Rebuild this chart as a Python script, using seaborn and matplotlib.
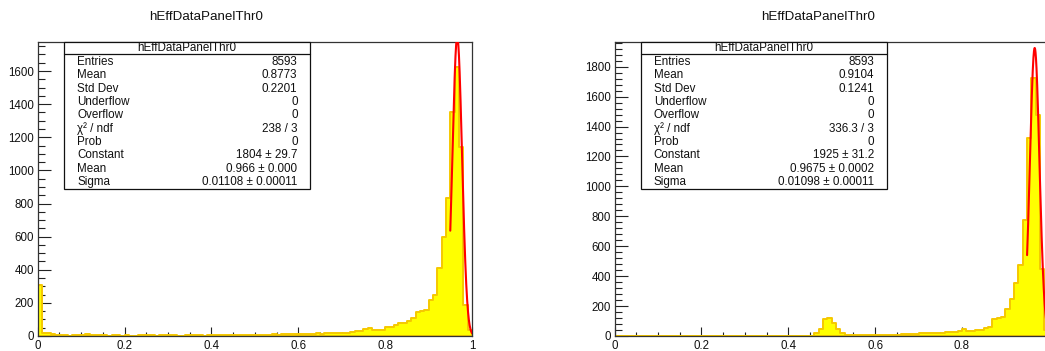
import numpy as np
import pandas as pd
import matplotlib
matplotlib.use("Agg")
import matplotlib.pyplot as plt
import seaborn as sns
from matplotlib.patches import Rectangle
from matplotlib.ticker import FixedLocator, MultipleLocator

# ---------------- data ----------------
hist_title = "hEffDataPanelThr0"
n_bins = 100
x_range = (0.0, 1.0)

left_counts = [
    308, 20, 16, 12, 6, 4, 5, 3, 6, 8,
    6, 10, 8, 5, 4, 6, 3, 4, 5, 3,
    4, 2, 3, 5, 6, 5, 4, 3, 5, 6,
    4, 5, 3, 2, 4, 5, 6, 4, 3, 5,
    6, 5, 4, 6, 5, 4, 5, 6, 5, 4,
    6, 5, 6, 7, 10, 9, 11, 10, 12, 11,
    12, 13, 12, 14, 16, 14, 18, 17, 20, 19,
    20, 21, 26, 30, 32, 42, 46, 38, 36, 38,
    56, 56, 68, 76, 80, 90, 110, 145, 150, 155,
    217, 248, 409, 600, 831, 1355, 1622, 1143, 187, 36,
]
right_counts = [
    1, 0, 1, 1, 0, 1, 1, 0, 1, 1,
    0, 1, 1, 1, 0, 1, 1, 0, 1, 1,
    1, 0, 1, 1, 1, 0, 1, 1, 1, 0,
    1, 1, 0, 1, 1, 1, 0, 1, 1, 1,
    1, 0, 1, 1, 2, 2, 22, 45, 112, 118,
    89, 45, 22, 5, 5, 4, 5, 6, 5, 6,
    6, 7, 8, 7, 9, 10, 12, 11, 13, 15,
    18, 17, 20, 22, 21, 23, 25, 27, 28, 33,
    49, 33, 36, 40, 42, 56, 60, 112, 118, 128,
    180, 250, 353, 475, 777, 1324, 1726, 1480, 450, 40,
]

stat_labels = ["Entries", "Mean", "Std Dev", "Underflow", "Overflow",
               "χ² / ndf", "Prob", "Constant", "Mean", "Sigma"]
left_stats = ["8593", "0.8773", "0.2201", "0", "0", "238 / 3", "0",
              "1804 ± 29.7", "0.966 ± 0.000", "0.01108 ± 0.00011"]
right_stats = ["8593", "0.9104", "0.1241", "0", "0", "336.3 / 3", "0",
               "1925 ± 31.2", "0.9675 ± 0.0002", "0.01098 ± 0.00011"]

# Gaussian fit parameters (Constant, Mean, Sigma) and fit ranges
left_fit = (1804.0, 0.966, 0.01108)
right_fit = (1925.0, 0.9675, 0.01098)
left_fit_range = (0.95, 1.0)
right_fit_range = (0.95, 1.0)

left_ymax = 1777
right_ymax = 1967
x_tick_vals = [0, 0.2, 0.4, 0.6, 0.8, 1.0]
left_x_text = ["0", "0.2", "0.4", "0.6", "0.8", "1"]
right_x_text = ["0", "0.2", "0.4", "0.6", "0.8", ""]  # "1" lies past the image edge

# ---------------- style ----------------
sns.set_theme(style="white")
plt.rcParams["font.family"] = ["Liberation Sans", "DejaVu Sans"]

W, H = 1045, 351
fig = plt.figure(figsize=(W / 100, H / 100), dpi=100)

frame_l, frame_w = 37.7, 434.3
frame_top, frame_bot = 41.7, 336.0


def ax_rect(x0):
    return [x0 / W, (H - frame_bot) / H, frame_w / W, (frame_bot - frame_top) / H]


ax_left = fig.add_axes(ax_rect(37.7))
ax_right = fig.add_axes(ax_rect(614.5))

edges = np.linspace(x_range[0], x_range[1], n_bins + 1)
centers = 0.5 * (edges[:-1] + edges[1:])


def draw_panel(ax, counts, fit, fit_range, ymax, stats, minor_y, xtext):
    df = pd.DataFrame({"eff": centers, "count": counts})
    sns.histplot(data=df, x="eff", weights="count", bins=n_bins, binrange=x_range,
                 element="step", fill=True, color="#ffff00", alpha=1.0,
                 edgecolor="#f5c800", linewidth=1.4, ax=ax, zorder=2)
    const, mu, sig = fit
    xs = np.linspace(fit_range[0], fit_range[1], 400)
    fdf = pd.DataFrame({"x": xs, "y": const * np.exp(-0.5 * ((xs - mu) / sig) ** 2)})
    sns.lineplot(data=fdf, x="x", y="y", color="#ff0000", linewidth=1.5,
                 ax=ax, zorder=3, sort=False)
    ax.set_xlim(*x_range)
    ax.set_ylim(0, ymax)
    ax.set_xlabel("")
    ax.set_ylabel("")

    ax.xaxis.set_major_locator(FixedLocator(x_tick_vals))
    ax.set_xticklabels(xtext)
    ax.xaxis.set_minor_locator(MultipleLocator(0.05))
    ax.yaxis.set_major_locator(MultipleLocator(200))
    ax.yaxis.set_minor_locator(MultipleLocator(minor_y))
    ax.tick_params(axis="both", which="both", direction="in", color="#222222",
                   labelsize=8.3, labelcolor="#111111", top=False, right=False,
                   bottom=True, left=True)
    ax.tick_params(axis="y", which="major", length=9.5, width=0.8, pad=2.5)
    ax.tick_params(axis="y", which="minor", length=4.8, width=0.8)
    ax.tick_params(axis="x", which="major", length=6.6, width=0.8, pad=2.6)
    ax.tick_params(axis="x", which="minor", length=3.1, width=0.8)
    for s in ax.spines.values():
        s.set_color("#333333")
        s.set_linewidth(0.9)
    ax.set_facecolor("white")

    # stats box
    bx0, bx1 = 0.0613, 0.627
    by0, by1 = 0.4995, 1.0
    ax.add_patch(Rectangle((bx0, by0), bx1 - bx0, by1 - by0, transform=ax.transAxes,
                           facecolor="white", edgecolor="#111111", linewidth=0.9,
                           zorder=5, clip_on=False))
    hline_y = (frame_bot - 54.0) / (frame_bot - frame_top)
    ax.plot([bx0, bx1], [hline_y, hline_y], transform=ax.transAxes,
            color="#111111", linewidth=0.9, zorder=6, clip_on=False)
    head_y = (frame_bot - 48.0) / (frame_bot - frame_top)
    ax.text((bx0 + bx1) / 2, head_y, hist_title, transform=ax.transAxes,
            ha="center", va="center", fontsize=8.4, color="#111111", zorder=7)
    lab_x = (77.0 - frame_l) / frame_w
    val_x = (297.5 - frame_l) / frame_w
    for i, (lab, val) in enumerate(zip(stat_labels, stats)):
        yc = 61.7 + i * 13.4
        ya = (frame_bot - yc) / (frame_bot - frame_top)
        ax.text(lab_x, ya, lab, transform=ax.transAxes, ha="left", va="center",
                fontsize=8.4, color="#111111", zorder=7)
        ax.text(val_x, ya, val, transform=ax.transAxes, ha="right", va="center",
                fontsize=8.4, color="#111111", zorder=7)


draw_panel(ax_left, left_counts, left_fit, left_fit_range, left_ymax, left_stats, 50,
           left_x_text)
draw_panel(ax_right, right_counts, right_fit, right_fit_range, right_ymax, right_stats, 40,
           right_x_text)

fig.text(206 / W, 1 - 17 / H, hist_title, ha="center", va="center", fontsize=9.6,
         color="#111111")
fig.text(818 / W, 1 - 17 / H, hist_title, ha="center", va="center", fontsize=9.6,
         color="#111111")

fig.savefig("out.png", dpi=100, facecolor="white")
